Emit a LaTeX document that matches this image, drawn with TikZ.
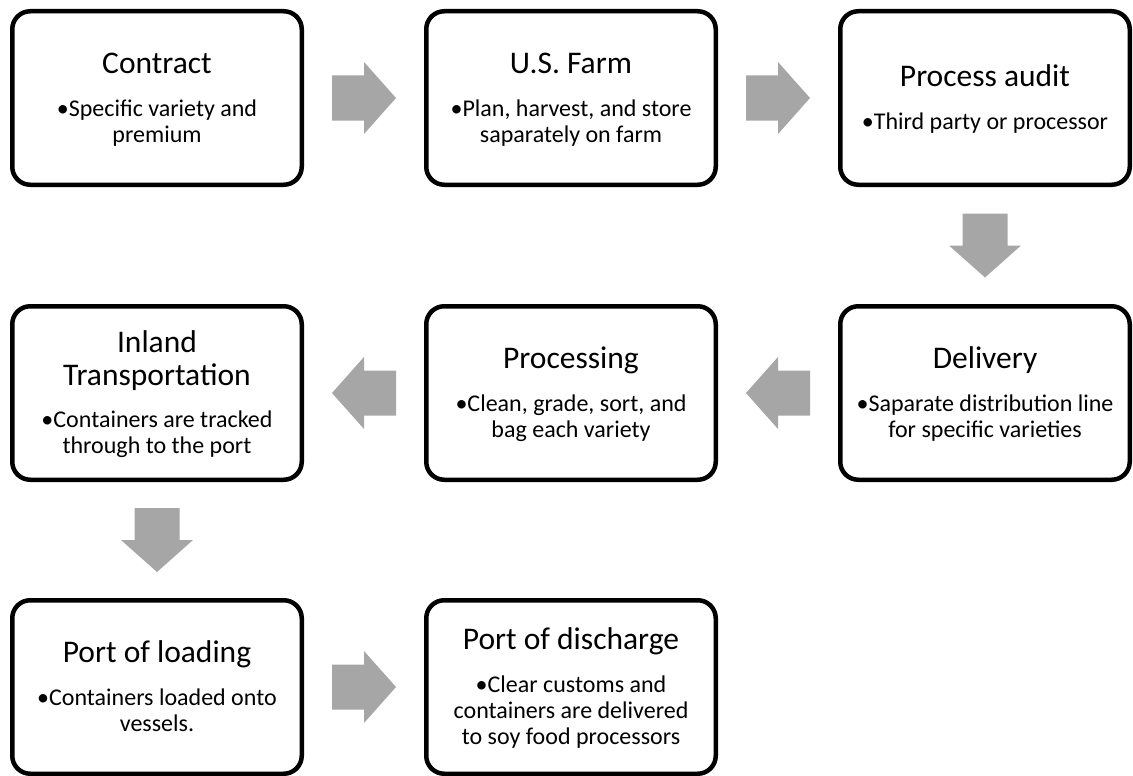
\documentclass[tikz,border=0pt]{standalone}
\usepackage{fontspec}
\setmainfont{Carlito}
\usetikzlibrary{calc}
\definecolor{arrowgray}{HTML}{A6A6A6}
\setlength\parindent{0pt}
\newcommand\titlef{\fontsize{31.5}{32.5}\selectfont\baselineskip=32.5pt\relax}
\newcommand\bodyf{\fontsize{24}{26}\selectfont\baselineskip=26pt\relax}
\newcommand\tstrut{\rule{0pt}{27pt}}
\newcommand\bstrut{\rule[-7pt]{0pt}{7pt}}
\newcommand\boxtext[2]{\begin{minipage}{285pt}\centering\titlef\tstrut #1\par\bodyf\vskip 16.5pt #2\bstrut\par\end{minipage}}
\tikzset{
  stepbox/.style={draw=black, line width=4.5pt, rounded corners=18pt, fill=white,
    minimum width=289.5pt, minimum height=173.5pt, inner sep=0pt},
  fatarrow/.pic={\fill[arrowgray] (-32,-22.5) -- (0,-22.5) -- (0,-36) -- (32,0) -- (0,36) -- (0,22.5) -- (-32,22.5) -- cycle;}
}
\begin{document}
\begin{tikzpicture}[x=1pt,y=-1pt]
\useasboundingbox (0,0) rectangle (1133,776);
\node[stepbox] (c1) at (157,98) {\boxtext{Contract}{•Specific variety and\\premium}};
\node[stepbox] (c2) at (571,98) {\boxtext{U.S. Farm}{•Plan, harvest, and store\\saparately on farm}};
\node[stepbox] (c3) at (985,98) {\boxtext{Process audit}{•Third party or processor}};
\node[stepbox] (c4) at (985,393) {\boxtext{Delivery}{•Saparate distribution line\\for specific varieties}};
\node[stepbox] (c5) at (571,393) {\boxtext{Processing}{•Clean, grade, sort, and\\bag each variety}};
\node[stepbox] (c6) at (157,393) {\boxtext{Inland\\Transportation}{•Containers are tracked\\through to the port}};
\node[stepbox] (c7) at (157,687) {\boxtext{Port of loading}{•Containers loaded onto\\vessels.}};
\node[stepbox] (c8) at (571,687) {\boxtext{Port of discharge}{•Clear customs and\\containers are delivered\\to soy food processors}};
\pic at ($(c1.east)!0.5!(c2.west)$) {fatarrow};
\pic at ($(c2.east)!0.5!(c3.west)$) {fatarrow};
\pic[rotate=-90] at ($(c3.south)!0.5!(c4.north)$) {fatarrow};
\pic[rotate=180] at ($(c4.west)!0.5!(c5.east)$) {fatarrow};
\pic[rotate=180] at ($(c5.west)!0.5!(c6.east)$) {fatarrow};
\pic[rotate=-90] at ($(c6.south)!0.5!(c7.north)$) {fatarrow};
\pic at ($(c7.east)!0.5!(c8.west)$) {fatarrow};
\end{tikzpicture}
\end{document}
